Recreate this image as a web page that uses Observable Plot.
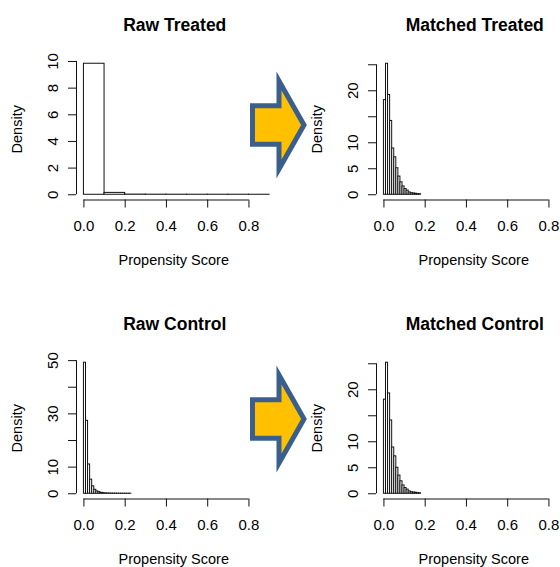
<!DOCTYPE html>
<html>
<head>
<meta charset="utf-8">
<script src="https://cdn.jsdelivr.net/npm/d3@7"></script>
<script src="https://cdn.jsdelivr.net/npm/@observablehq/plot@0.6"></script>
<style>
  html, body { margin: 0; padding: 0; background: #fff; }
  #page { position: relative; width: 560px; height: 567px; overflow: hidden; background: #fff; }
  .panel { position: absolute; width: 300px; height: 299px; }
  .panel svg { max-width: none !important; }
  .arrow { position: absolute; left: 0; top: 0; }
</style>
</head>
<body>
<div id="page"></div>
<script>
// ---------- data ----------
const panelTitles = ["Raw Treated", "Matched Treated", "Raw Control", "Matched Control"];
const xAxisLabel = "Propensity Score";
const yAxisLabel = "Density";
const xLimits = [0, 0.9];
const xTicks = [0, 0.2, 0.4, 0.6, 0.8];

// histogram densities (bins start at 0)
const rawTreatedBinWidth = 0.1;
const rawTreatedDensity = [9.83, 0.14, 0.012, 0.006, 0.004, 0.003, 0.002, 0.002, 0.001];

const matchedTreatedBinWidth = 0.01;
const matchedTreatedDensity = [18.2, 25.2, 19.2, 14.2, 8.9, 7.2, 5.1, 3.5, 2.4, 1.6, 1.1, 0.8, 0.45, 0.3, 0.25, 0.2, 0.12, 0.1];

const rawControlBinWidth = 0.01;
const rawControlDensity = [49.2, 27.4, 11.0, 5.3, 2.8, 1.5, 0.9, 0.6, 0.35, 0.25, 0.15, 0.1, 0.08, 0.06, 0.05, 0.04, 0.03, 0.02, 0.02, 0.01, 0.01, 0.01, 0.01];

const matchedControlBinWidth = 0.01;
const matchedControlDensity = [18.1, 25.2, 19.3, 14.1, 8.9, 7.2, 5.0, 3.5, 2.4, 1.6, 1.1, 0.8, 0.45, 0.3, 0.25, 0.2, 0.12, 0.1];

const yTicksRawTreated = [0, 2, 4, 6, 8, 10];
const yLabelsRawTreated = [0, 2, 4, 6, 8, 10];
const yTicksMatched = [0, 5, 10, 15, 20, 25];
const yLabelsMatched = [0, 5, 10, 20];
const yTicksRawControl = [0, 10, 20, 30, 40, 50];
const yLabelsRawControl = [0, 10, 30, 50];

// ---------- drawing ----------
const PANEL_W = 300, PANEL_H = 299;
const ML = 76, MT = 58, FRAME_BOTTOM = 199.5, FRAME_W = 200.5;

function histPanel(title, density, binWidth, yTicks, yLabels) {
  const bins = density.map((d, i) => ({x1: xLimits[0] + i * binWidth, x2: xLimits[0] + (i + 1) * binWidth, y: d}));
  const xr = xLimits[1] - xLimits[0];
  const xDomain = [xLimits[0] - 0.04 * xr, xLimits[1] + 0.04 * xr];
  const ymax = d3.max(density);
  const yDomain = [-0.04 * ymax, 1.04 * ymax];
  return Plot.plot({
    width: PANEL_W,
    height: PANEL_H,
    marginLeft: ML,
    marginTop: MT,
    marginBottom: PANEL_H - FRAME_BOTTOM,
    marginRight: PANEL_W - ML - FRAME_W,
    style: {fontFamily: "'Liberation Sans', Arial, sans-serif", fontSize: "15px", color: "#000", background: "transparent", overflow: "visible", maxWidth: "none"},
    x: {domain: xDomain},
    y: {domain: yDomain},
    marks: [
      Plot.rectY(bins, {x1: "x1", x2: "x2", y1: 0, y2: "y", fill: "white", stroke: "#111", strokeWidth: 1}),
      // x axis
      Plot.ruleY([yDomain[0]], {x1: xTicks[0], x2: xTicks[xTicks.length - 1], stroke: "#111"}),
      Plot.axisX({ticks: xTicks, tickSize: 8, tickPadding: 12, tickFormat: d3.format(".1f"), label: null, fontSize: 15, stroke: "#111"}),
      // y axis
      Plot.ruleX([xDomain[0]], {y1: yTicks[0], y2: yTicks[yTicks.length - 1], stroke: "#111"}),
      Plot.axisY({ticks: yTicks, tickSize: 8, tickFormat: () => "", label: null, stroke: "#111"}),
      Plot.text(yLabels, {y: d => d, text: d => String(d), frameAnchor: "left", dx: -23, rotate: -90, textAnchor: "middle", lineAnchor: "middle", fontSize: 15}),
      // labels
      Plot.text([yAxisLabel], {frameAnchor: "left", dx: -59, rotate: -90, textAnchor: "middle", lineAnchor: "middle", fontSize: 14.5}),
      Plot.text([xAxisLabel], {frameAnchor: "bottom", dy: 60.5, dx: -3, textAnchor: "middle", lineAnchor: "middle", fontSize: 14.5}),
      Plot.text([title], {frameAnchor: "top", dy: -33, dx: -2, textAnchor: "middle", lineAnchor: "middle", fontSize: 17.5, fontWeight: "bold"})
    ]
  });
}

const page = document.getElementById("page");
const specs = [
  [panelTitles[0], rawTreatedDensity, rawTreatedBinWidth, yTicksRawTreated, yLabelsRawTreated, 0, 0],
  [panelTitles[1], matchedTreatedDensity, matchedTreatedBinWidth, yTicksMatched, yLabelsMatched, 300, 0],
  [panelTitles[2], rawControlDensity, rawControlBinWidth, yTicksRawControl, yLabelsRawControl, 0, 299],
  [panelTitles[3], matchedControlDensity, matchedControlBinWidth, yTicksMatched, yLabelsMatched, 300, 299]
];
for (const [t, dens, bw, yt, yl, left, top] of specs) {
  const div = document.createElement("div");
  div.className = "panel";
  div.style.left = left + "px";
  div.style.top = top + "px";
  const svg = histPanel(t, dens, bw, yt, yl);
  svg.style.maxWidth = "none";
  svg.style.width = PANEL_W + "px";
  svg.style.height = PANEL_H + "px";
  div.appendChild(svg);
  page.appendChild(div);
}

// decorative arrows
const ns = "http://www.w3.org/2000/svg";
const arrowSvg = document.createElementNS(ns, "svg");
arrowSvg.setAttribute("width", 560);
arrowSvg.setAttribute("height", 567);
arrowSvg.setAttribute("class", "arrow");
for (const oy of [0, 294]) {
  const p = document.createElementNS(ns, "polygon");
  const pts = [[252.5, 105.8], [279, 105.8], [279, 81], [304, 125], [279, 169], [279, 144.2], [252.5, 144.2]];
  p.setAttribute("points", pts.map(([x, y]) => `${x},${y + oy}`).join(" "));
  p.setAttribute("fill", "#FFC000");
  p.setAttribute("stroke", "#3A5F8C");
  p.setAttribute("stroke-width", 5);
  arrowSvg.appendChild(p);
}
page.appendChild(arrowSvg);
</script>
</body>
</html>
